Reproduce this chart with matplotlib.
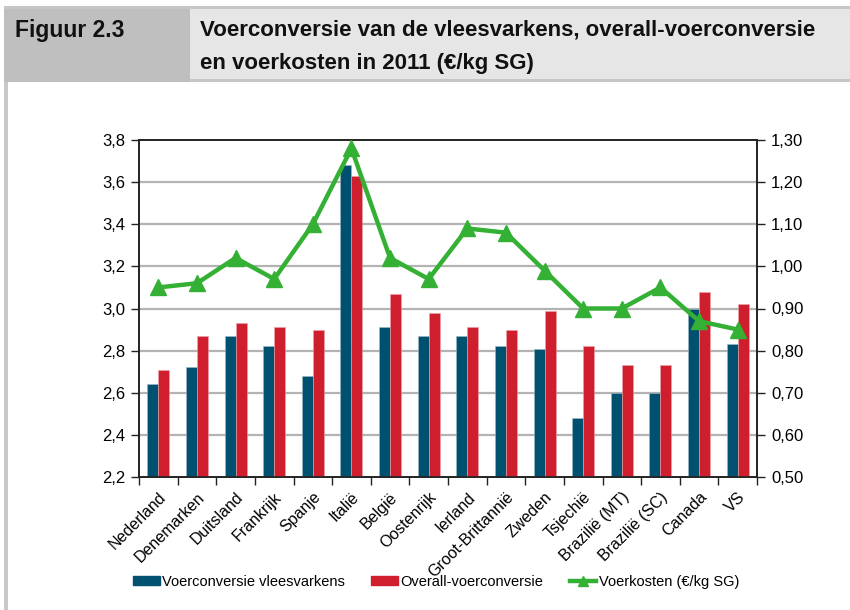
import matplotlib
matplotlib.use("Agg")
import matplotlib.pyplot as plt
from matplotlib.patches import Rectangle
from matplotlib.lines import Line2D
from matplotlib.ticker import FixedLocator, FuncFormatter
import numpy as np

countries = ["Nederland", "Denemarken", "Duitsland", "Frankrijk", "Spanje", "Italië",
             "België", "Oostenrijk", "Ierland", "Groot-Brittannië", "Zweden", "Tsjechië",
             "Brazilië (MT)", "Brazilië (SC)", "Canada", "VS"]
voerconversie = [2.64, 2.72, 2.87, 2.82, 2.68, 3.68, 2.91, 2.87, 2.87, 2.82, 2.81, 2.48,
                 2.60, 2.60, 3.00, 2.83]
overall = [2.71, 2.87, 2.93, 2.91, 2.90, 3.63, 3.07, 2.98, 2.91, 2.90, 2.99, 2.82,
           2.73, 2.73, 3.08, 3.02]
voerkosten = [0.95, 0.96, 1.02, 0.97, 1.10, 1.28, 1.02, 0.97, 1.09, 1.08, 0.99, 0.90,
              0.90, 0.95, 0.87, 0.85]
left_ticks = [2.2, 2.4, 2.6, 2.8, 3.0, 3.2, 3.4, 3.6, 3.8]
right_ticks = [0.50, 0.60, 0.70, 0.80, 0.90, 1.00, 1.10, 1.20, 1.30]

FONT = ["Liberation Sans", "DejaVu Sans"]
plt.rcParams["font.family"] = FONT

W, H = 850, 610
fig = plt.figure(figsize=(W / 100, H / 100), dpi=100)

def frect(x0, y0, x1, y1, color):
    fig.add_artist(Rectangle((x0 / W, 1 - y1 / H), (x1 - x0) / W, (y1 - y0) / H,
                             transform=fig.transFigure, facecolor=color,
                             edgecolor="none", zorder=0))

# header
frect(4, 6, W, 82, "#c6c6c6")
frect(4, 9, 190, 82, "#bfbfbf")
frect(190, 9, W, 79, "#e6e6e6")
frect(4, 82, 8, H, "#c8c8c8")

fig.text(15 / W, 1 - 30 / H, "Figuur 2.3", fontsize=16.5, fontweight="bold",
         va="center", ha="left", color="#111111")
fig.text(200 / W, 1 - 30 / H, "Voerconversie van de vleesvarkens, overall-voerconversie",
         fontsize=16, fontweight="bold", va="center", ha="left", color="#111111")
fig.text(200 / W, 1 - 63 / H, "en voerkosten in 2011 (€/kg SG)",
         fontsize=16, fontweight="bold", va="center", ha="left", color="#111111")

ax = fig.add_axes([139 / W, 1 - 477 / H, (757 - 139) / W, (477 - 140) / H])
ax2 = ax.twinx()

x = np.arange(len(countries))
bw = 0.285
blue = "#00506f"
red = "#cf1f2e"
green = "#34b034"

ax.bar(x - bw / 2, voerconversie, width=bw, color=blue, edgecolor="#9fb8c4",
       linewidth=0.4, zorder=3, label="Voerconversie vleesvarkens")
ax.bar(x + bw / 2, overall, width=bw, color=red, edgecolor="#eba3aa",
       linewidth=0.4, zorder=3, label="Overall-voerconversie")
ax2.plot(x, voerkosten, color=green, lw=3.2, marker="^", markersize=11,
         zorder=5, label="Voerkosten (€/kg SG)")

ax.set_ylim(2.2, 3.8)
ax.set_xlim(-0.5, len(countries) - 0.5)
ax.yaxis.set_major_locator(FixedLocator(left_ticks))
ax.yaxis.set_major_formatter(FuncFormatter(lambda v, p: f"{v:.1f}".replace(".", ",")))
ax2.set_ylim(0.5, 1.3)
ax2.yaxis.set_major_locator(FixedLocator(right_ticks))
ax2.yaxis.set_major_formatter(FuncFormatter(lambda v, p: f"{v:.2f}".replace(".", ",")))

for t in left_ticks[1:-1]:
    ax.axhline(t, color="#b3b3b3", lw=1.6, zorder=1)

ax.set_xticks(x)
ax.set_xticklabels(countries, rotation=45, ha="right", rotation_mode="anchor",
                   fontsize=11.5)
ax.tick_params(axis="x", length=0, pad=9)
ax.set_xticks(np.arange(-0.5, len(countries), 1), minor=True)
ax.tick_params(axis="x", which="minor", length=6, width=1, color="#222222", direction="out")
ax.tick_params(axis="y", length=6, width=1, labelsize=12, color="#222222", direction="out", pad=4)
ax2.tick_params(axis="y", length=6, width=1, labelsize=12, color="#222222", direction="out", pad=4)

for a in (ax, ax2):
    for s in a.spines.values():
        s.set_color("#222222")
        s.set_linewidth(1.2)
ax.set_zorder(1)
ax2.set_zorder(2)
ax2.patch.set_visible(False)

handles = [Rectangle((0, 0), 1, 1, color=blue),
           Rectangle((0, 0), 1, 1, color=red),
           Line2D([0], [0], color=green, lw=3.2, marker="^", markersize=7)]
labels = ["Voerconversie vleesvarkens", "Overall-voerconversie", "Voerkosten (€/kg SG)"]
fig.legend(handles, labels, loc="center", bbox_to_anchor=(436 / W, 1 - 582 / H),
           ncol=3, frameon=False, fontsize=10.5, handlelength=1.85, handleheight=0.6,
           handletextpad=0.15, columnspacing=1.8)

fig.savefig("out.png", dpi=100)
